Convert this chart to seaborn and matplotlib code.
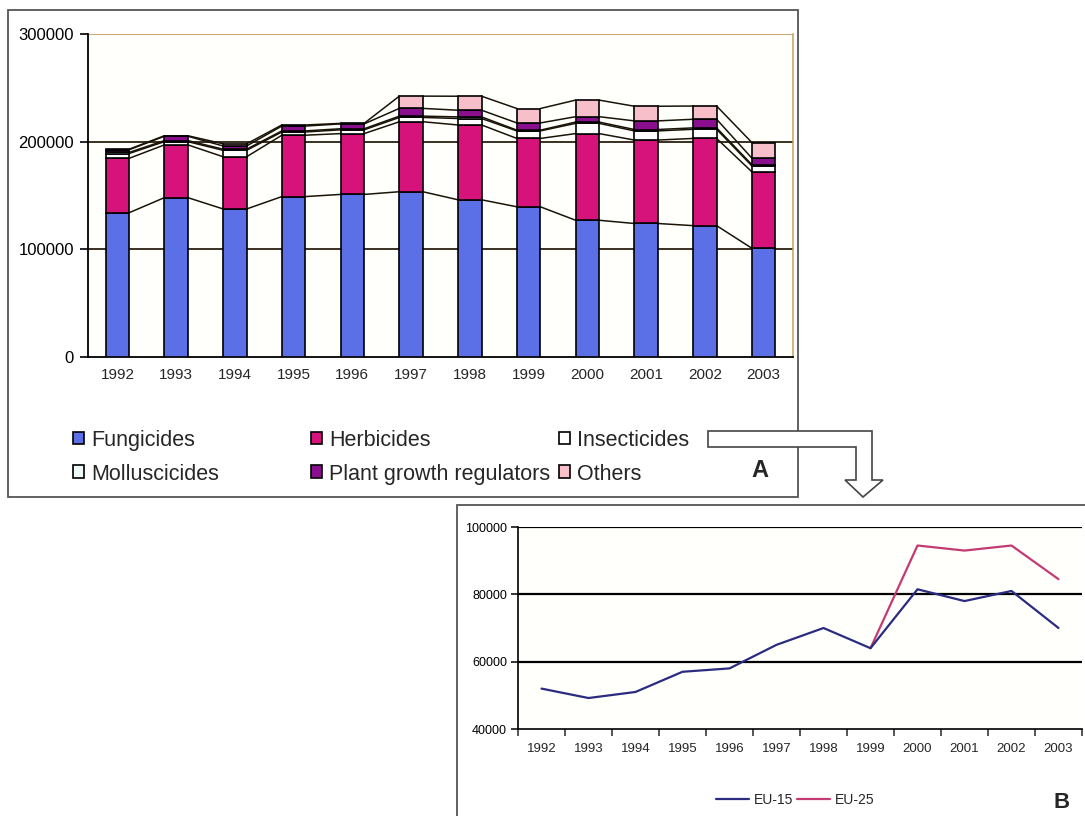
import numpy as np
import pandas as pd
import matplotlib
matplotlib.use("Agg")
import matplotlib.pyplot as plt
from matplotlib.patches import Rectangle, Polygon, Patch
from matplotlib.lines import Line2D
import seaborn as sns

# Data
years = ['1992', '1993', '1994', '1995', '1996', '1997',
         '1998', '1999', '2000', '2001', '2002', '2003']
fungicides = [134000, 148000, 137500, 149000, 151000, 153500, 146000, 139500, 127000, 124000, 122000, 101000]
herbicides = [50500, 49000, 48500, 57000, 56500, 65000, 69500, 63500, 80500, 77500, 81000, 71000]
insecticides = [4500, 3000, 6000, 3000, 3500, 4000, 6000, 7000, 9500, 8500, 8500, 5500]
molluscicides = [1000, 1000, 1000, 1000, 1000, 1200, 1500, 700, 1200, 1300, 1300, 1200]
plant_growth = [2500, 4000, 3000, 4500, 4500, 7200, 6200, 6700, 5000, 8000, 8000, 6000]
others = [500, 500, 2000, 1000, 500, 11400, 13000, 13400, 15400, 13600, 12300, 14500]

eu15 = [52000, 49200, 51000, 57000, 58000, 65000, 70000, 64000, 81500, 78000, 81000, 70000]
eu25_years = ['1999', '2000', '2001', '2002', '2003']
eu25 = [64000, 94500, 93000, 94500, 84500]

series_names = ['Fungicides', 'Herbicides', 'Insecticides',
                'Molluscicides', 'Plant growth regulators', 'Others']
series_colors = ['#5b70e6', '#d6137a', '#ffffff', '#eefafa', '#8a0f8f', '#f7bfc9']

sns.set_style("white")
plt.rcParams['font.family'] = ['Liberation Sans', 'DejaVu Sans']

W, H = 1085, 816
fig = plt.figure(figsize=(W / 100, H / 100), dpi=100)
fig.patch.set_facecolor('white')


def fx(x):
    return x / W


def fy(y):
    return 1 - y / H


# ---------------- Panel A: stacked bars ----------------
ax1 = fig.add_axes([fx(88), fy(357), fx(793 - 88), (357 - 34) / H])
ax1.set_facecolor('#fffffc')
pos = np.arange(len(years))
bw = 0.4
stack = [fungicides, herbicides, insecticides, molluscicides, plant_growth, others]
bottom = np.zeros(len(years))
tops = []
for vals, col, name in zip(stack, series_colors, series_names):
    vals = np.array(vals, dtype=float)
    ax1.bar(pos, vals, width=bw, bottom=bottom, color=col, edgecolor='black',
            linewidth=1.2, zorder=3, label=name)
    bottom = bottom + vals
    tops.append(bottom.copy())

# series lines between neighbouring bars
for level in tops:
    for i in range(len(years) - 1):
        ax1.plot([pos[i] + bw / 2, pos[i + 1] - bw / 2], [level[i], level[i + 1]],
                 color='#1a1408', lw=1.1, zorder=2)

ax1.set_xlim(-0.5, len(years) - 0.5)
ax1.set_ylim(0, 300000)
ax1.set_yticks([0, 100000, 200000, 300000])
ax1.set_yticklabels(['0', '100000', '200000', '300000'], fontsize=12)
ax1.set_xticks(pos)
ax1.set_xticklabels(years, fontsize=11)
for yv, c in [(100000, '#2b2010'), (200000, '#2b2010'), (300000, '#c8a060')]:
    ax1.axhline(yv, color=c, lw=1.3, zorder=1)
for s in ['left', 'bottom']:
    ax1.spines[s].set_color('black')
    ax1.spines[s].set_linewidth(1.3)
ax1.spines['top'].set_visible(False)
ax1.spines['right'].set_color('#c8a060')
ax1.spines['right'].set_linewidth(1.1)
ax1.tick_params(axis='y', which='major', direction='out', length=6, width=1.2,
                left=True, pad=4, colors='black')
ax1.tick_params(axis='x', which='major', length=0, pad=8)

# legends for panel A (three columns)
handles = [Patch(facecolor=c, edgecolor='black', linewidth=1.2) for c in series_colors]
col_x = [64, 302, 550]
for k in range(3):
    idx = [k, k + 3]
    fig.legend([handles[j] for j in idx], [series_names[j] for j in idx],
               loc='upper left', bbox_to_anchor=(fx(col_x[k]), fy(421)),
               frameon=False, fontsize=15.5, handlelength=0.55, handleheight=0.55,
               handletextpad=0.3, labelspacing=0.6, borderaxespad=0)
fig.text(fx(760), fy(471), 'A', fontsize=17, fontweight='bold', ha='center', va='center')

fig.add_artist(Rectangle((fx(8), fy(497)), fx(798 - 8), (497 - 10) / H,
                         transform=fig.transFigure, fill=False,
                         edgecolor='#555555', lw=1.3, zorder=0))

# arrow from panel A to panel B
arrow_px = [(708, 431), (872, 431), (872, 480), (883, 480), (863, 497),
            (845, 480), (856, 480), (856, 447), (708, 447)]
fig.add_artist(Polygon([(fx(x), fy(y)) for x, y in arrow_px], closed=True,
                       transform=fig.transFigure, facecolor='white',
                       edgecolor='#444444', lw=1.2, zorder=5))

# ---------------- Panel B: lines ----------------
fig.add_artist(Rectangle((fx(457), fy(830)), fx(1100 - 457), (830 - 505) / H,
                         transform=fig.transFigure, fill=False,
                         edgecolor='#555555', lw=1.3, zorder=0))

ax2 = fig.add_axes([fx(518), fy(729), fx(1082 - 518), (729 - 527) / H])
ax2.set_facecolor('#fffffc')
df15 = pd.DataFrame({'pos': pos, 'value': eu15})
df25 = pd.DataFrame({'pos': [years.index(y) for y in eu25_years], 'value': eu25})
sns.lineplot(data=df15, x='pos', y='value', color='#2b2b80', lw=1.6,
             estimator=None, ax=ax2, zorder=3)
sns.lineplot(data=df25, x='pos', y='value', color='#c43a72', lw=1.6,
             estimator=None, ax=ax2, zorder=2)
ax2.set_xlim(-0.5, len(years) - 0.5)
ax2.set_ylim(40000, 100000)
ax2.set_yticks([40000, 60000, 80000, 100000])
ax2.set_yticklabels(['40000', '60000', '80000', '100000'], fontsize=9)
ax2.set_xticks(pos)
ax2.set_xticklabels(years, fontsize=9.5)
ax2.set_xticks(np.arange(-0.5, len(years), 1), minor=True)
ax2.set_xlabel('')
ax2.set_ylabel('')
for yv in [60000, 80000, 100000]:
    ax2.axhline(yv, color='black', lw=1.6, zorder=1)
for s in ['left', 'bottom']:
    ax2.spines[s].set_color('black')
    ax2.spines[s].set_linewidth(1.2)
ax2.spines['top'].set_visible(False)
ax2.spines['right'].set_visible(False)
ax2.tick_params(axis='y', which='major', direction='out', length=5, width=1.1,
                left=True, pad=3, colors='black')
ax2.tick_params(axis='x', which='major', length=0, pad=10)
ax2.tick_params(axis='x', which='minor', direction='out', length=5, width=1.1,
                bottom=True)

leg_b = [Line2D([0], [0], color='#2b2b80', lw=1.6),
         Line2D([0], [0], color='#c43a72', lw=1.6)]
fig.legend(leg_b, ['EU-15', 'EU-25'], loc='center', bbox_to_anchor=(fx(795), fy(800)),
           ncol=2, frameon=False, fontsize=10, handlelength=2.4, handletextpad=0.3,
           columnspacing=0.3)
fig.text(fx(1062), fy(803), 'B', fontsize=16, fontweight='bold', ha='center', va='center')

fig.savefig('out.png', dpi=100)
